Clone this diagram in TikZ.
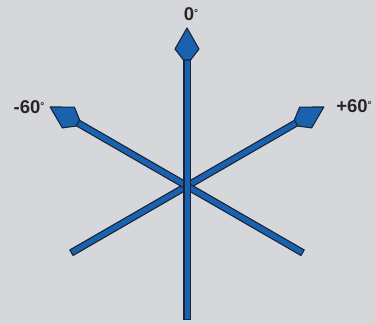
\documentclass[tikz,border=0pt]{standalone}
\usepackage{fontspec}
\setmainfont{Liberation Sans}
\definecolor{bg}{HTML}{D5D7DB}
\definecolor{axblue}{HTML}{1B62AE}
\definecolor{axdark}{HTML}{17243A}
\begin{document}
\begin{tikzpicture}[x=1pt,y=1pt,
  lbl/.style={font=\fontsize{18.5}{20}\selectfont\bfseries, text=black!85, inner sep=0pt},
  shaftout/.style={draw=axdark, line width=7.5pt},
  shaftin/.style={draw=axblue, line width=5pt},
  headshape/.style={fill=axblue, draw=axdark, line width=1.1pt, line join=round}]
\fill[bg] (0,0) rectangle (375,324);
\useasboundingbox (0,0) rectangle (375,324);
\coordinate (c) at (187,138);
\foreach \ang/\nm in {30/r,150/l,90/v}{
  \begin{scope}[shift={(c)}, rotate=\ang]
    \coordinate (\nm tail) at (-134,0);
    \coordinate (\nm neck) at (130,0);
    \coordinate (\nm tip) at (158,0);
    \draw[shaftout] (\nm tail) -- (\nm neck);
    \draw[shaftin, shorten <=1.2pt] (\nm tail) -- (\nm neck);
    \draw[headshape] (\nm tip) -- (137,12) -- (126,3.5) -- (126,-3.5) -- (137,-12) -- cycle;
  \end{scope}
}
\node[lbl] (l0) at (191,310) {0\raisebox{0.35ex}{\fontsize{10}{10}\selectfont °}};
\node[lbl] (lm) at (29,217) {-60\raisebox{0.35ex}{\fontsize{10}{10}\selectfont °}};
\node[lbl] (lp) at (354,218) {+60\raisebox{0.35ex}{\fontsize{10}{10}\selectfont °}};
\end{tikzpicture}
\end{document}
